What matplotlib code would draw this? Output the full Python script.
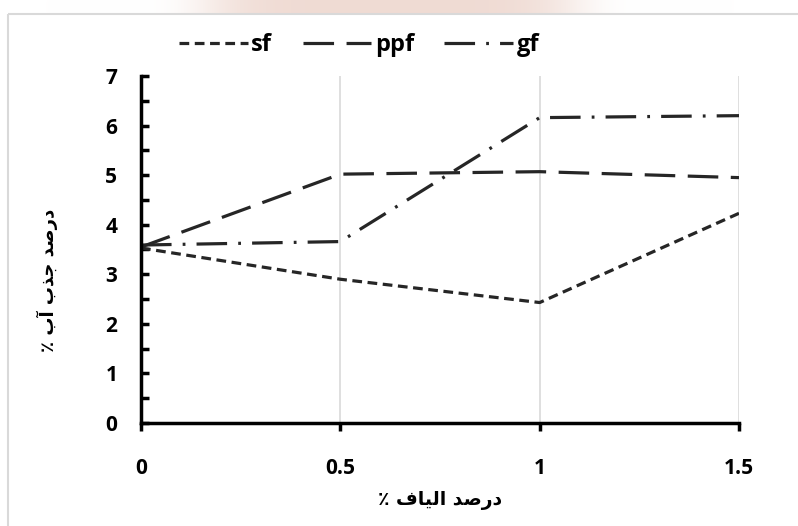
import numpy as np
import matplotlib
matplotlib.use("Agg")
import matplotlib.pyplot as plt
from matplotlib.patches import Rectangle

plt.rcParams['font.family'] = ['Open Sans', 'DejaVu Sans']
plt.rcParams['lines.scale_dashes'] = False

# Fibre content (%) and water absorption (%) for each fibre type
fiber_pct = [0, 0.5, 1, 1.5]
sf = [3.53, 2.90, 2.43, 4.23]
ppf = [3.55, 5.02, 5.07, 4.95]
gf = [3.59, 3.66, 6.16, 6.20]
series_names = ["sf", "ppf", "gf"]
x_ticks = [0, 0.5, 1, 1.5]
x_ticklabels = ["0", "0.5", "1", "1.5"]
y_ticks = [0, 1, 2, 3, 4, 5, 6, 7]

# Persian axis titles, written in presentation forms (visual order)
x_title = "\u066a " + "\ufed1\ufe8e\ufef4\ufedf\ufe8d" + " " + "\ufeaa\ufebb\ufead\ufea9"
y_title = ("\u066a " + "\ufe8f\ufe81" + " " + "\ufe8f\ufeac\ufe9f" + " "
           + "\ufeaa\ufebb\ufead\ufea9")

W, H = 798, 526
fig = plt.figure(figsize=(W / 100, H / 100), dpi=100)

# soft tinted strip above the chart frame
bg = fig.add_axes([0, 0, 1, 1], zorder=-10)
bg.set_xlim(0, W)
bg.set_ylim(H, 0)
bg.axis("off")
xs = np.linspace(0, W, 400)
fade = np.exp(-((xs - 390) / 190.0) ** 6)
strip = np.ones((1, len(xs), 3))
tint = np.array([0.94, 0.86, 0.83])
strip[0] = 1 - fade[:, None] * (1 - tint)
bg.imshow(strip, extent=[0, W, 14, 0], aspect="auto", interpolation="bilinear")
bg.add_patch(Rectangle((8, 14), W, H, fill=False, edgecolor="#d9d9d9", lw=1.5))

ax = fig.add_axes([141 / W, (H - 423) / H, 598 / W, 347 / H])

line_color = "#262626"
ax.plot(fiber_pct, sf, color=line_color, lw=2.3, dashes=(7, 4), label=series_names[0])
ax.plot(fiber_pct, ppf, color=line_color, lw=2.3, dashes=(22, 9), label=series_names[1])
ax.plot(fiber_pct, gf, color=line_color, lw=2.3, dashes=(22, 8, 2, 8), label=series_names[2])

ax.set_xlim(0, 1.5)
ax.set_ylim(0, 7)
ax.set_xticks(x_ticks)
ax.set_xticklabels(x_ticklabels)
ax.set_yticks(y_ticks)
ax.set_yticks(np.arange(0.5, 7, 1), minor=True)

ax.grid(axis="x", color="#d9d9d9", lw=1.2)
ax.set_axisbelow(True)

for s in ["top", "right"]:
    ax.spines[s].set_visible(False)
for s in ["left", "bottom"]:
    ax.spines[s].set_linewidth(2.5)
    ax.spines[s].set_color("black")

ax.tick_params(axis="y", which="both", direction="in", length=6, width=2.5,
               pad=17, labelsize=15)
ax.tick_params(axis="x", which="major", direction="out", length=6, width=2.5,
               pad=19, labelsize=15)
for lab in ax.get_xticklabels() + ax.get_yticklabels():
    lab.set_fontweight("bold")

fig.text(440 / W, 1 - 501 / H, x_title, ha="center", va="center",
         fontsize=13.5, fontweight="bold", family=["DejaVu Sans"])
fig.text(47 / W, 1 - 280 / H, y_title, ha="center", va="center", rotation=90,
         fontsize=13, fontweight="bold", family=["DejaVu Sans"])

leg = fig.legend(loc="center", bbox_to_anchor=(359 / W, 1 - 45 / H), ncol=3,
                 frameon=False, handlelength=2.9, handletextpad=0.15,
                 columnspacing=1.3, prop={"size": 17, "weight": "bold"})

fig.savefig("out.png", dpi=100)
